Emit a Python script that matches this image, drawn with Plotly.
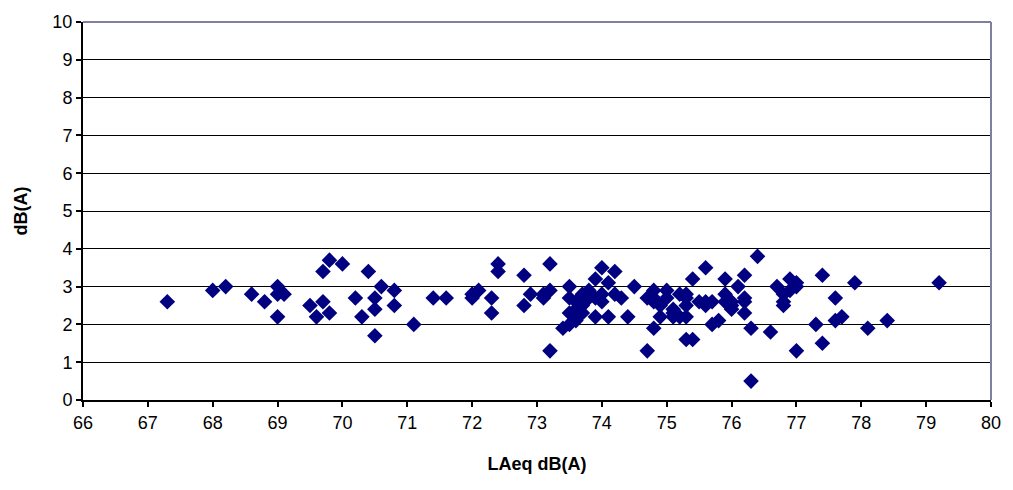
import plotly.graph_objects as go

laeq = [67.3, 68.0, 68.2, 68.6, 68.8, 69.0, 69.0, 69.1, 69.0, 69.5, 69.6, 69.7, 69.7, 69.8, 69.8,
        70.0, 70.2, 70.3, 70.4, 70.5, 70.5, 70.5, 70.6, 70.8, 70.8, 71.1, 71.4, 71.6,
        72.0, 72.0, 72.1, 72.3, 72.3, 72.4, 72.4, 72.8, 72.8, 72.9, 73.1, 73.1, 73.2, 73.2, 73.2,
        73.4, 73.5, 73.5, 73.5, 73.5, 73.6, 73.6, 73.6, 73.7, 73.7, 73.7, 73.8, 73.8, 73.9, 73.9, 73.9,
        74.0, 74.0, 74.0, 74.1, 74.1, 74.2, 74.2, 74.3, 74.4, 74.5, 74.7, 74.7, 74.8, 74.8, 74.8, 74.8,
        74.9, 74.9, 75.0, 75.0, 75.1, 75.1, 75.1, 75.2, 75.2, 75.3, 75.3, 75.3, 75.3, 75.3, 75.4, 75.4,
        75.5, 75.6, 75.6, 75.6, 75.7, 75.7, 75.8, 75.9, 75.9, 75.9, 76.0, 76.0, 76.0, 76.1, 76.2, 76.2,
        76.2, 76.2, 76.3, 76.3, 76.4, 76.6, 76.7, 76.8, 76.8, 76.8, 76.9, 76.9, 77.0, 77.0, 77.0,
        77.3, 77.4, 77.4, 77.6, 77.6, 77.7, 77.9, 78.1, 78.4, 79.2]
dba = [2.6, 2.9, 3.0, 2.8, 2.6, 3.0, 2.8, 2.8, 2.2, 2.5, 2.2, 2.6, 3.4, 3.7, 2.3,
       3.6, 2.7, 2.2, 3.4, 2.7, 2.4, 1.7, 3.0, 2.9, 2.5, 2.0, 2.7, 2.7,
       2.7, 2.8, 2.9, 2.7, 2.3, 3.6, 3.4, 3.3, 2.5, 2.8, 2.7, 2.8, 3.6, 2.9, 1.3,
       1.9, 2.0, 2.3, 3.0, 2.7, 2.1, 2.4, 2.6, 2.5, 2.3, 2.8, 2.7, 2.9, 2.2, 2.7, 3.2,
       2.6, 2.8, 3.5, 2.2, 3.1, 3.4, 2.8, 2.7, 2.2, 3.0, 2.7, 1.3, 2.6, 2.9, 1.9, 2.7,
       2.5, 2.2, 2.9, 2.7, 2.3, 2.2, 2.4, 2.8, 2.2, 2.7, 2.5, 2.2, 2.8, 1.6, 1.6, 3.2,
       2.6, 2.5, 3.5, 2.6, 2.6, 2.0, 2.1, 3.2, 2.8, 2.6, 2.6, 2.4, 2.5, 3.0, 3.3, 2.7,
       2.6, 2.3, 1.9, 0.5, 3.8, 1.8, 3.0, 2.8, 2.6, 2.5, 2.9, 3.2, 3.0, 3.1, 1.3,
       2.0, 3.3, 1.5, 2.7, 2.1, 2.2, 3.1, 1.9, 2.1, 3.1]

x_ticks = list(range(66, 81))
y_ticks = list(range(0, 11))

fig = go.Figure()
fig.add_trace(go.Scatter(
    x=laeq, y=dba, mode="markers",
    marker=dict(symbol="diamond", color="#000080", size=12, line=dict(width=0)),
    showlegend=False, hoverinfo="x+y"))

font = "Liberation Sans, Arial, sans-serif"
fig.update_layout(
    width=1013, height=490,
    margin=dict(l=83, r=15, t=15, b=90),
    paper_bgcolor="white", plot_bgcolor="white",
    font=dict(family=font, size=18, color="black"),
    xaxis=dict(range=[66, 80], tickvals=x_ticks, ticktext=[str(v) for v in x_ticks],
               showgrid=False, zeroline=False, showline=True, linecolor="black", linewidth=2,
               ticks="outside", ticklen=5, tickwidth=1.5, tickcolor="black",
               tickfont=dict(size=18),
               title=dict(text="<b>LAeq dB(A)</b>", font=dict(size=18), standoff=26)),
    yaxis=dict(range=[0, 10], tickvals=y_ticks, ticktext=[str(v) for v in y_ticks],
               showgrid=True, gridcolor="black", gridwidth=1.2, zeroline=False,
               showline=True, linecolor="black", linewidth=2,
               ticks="outside", ticklen=5, tickwidth=1.5, tickcolor="black",
               tickfont=dict(size=18),
               title=dict(text="<b>dB(A)</b>", font=dict(size=18), standoff=20)),
    shapes=[
        dict(type="line", xref="paper", yref="paper", x0=0, x1=1, y0=1, y1=1,
             line=dict(color="#7f7f9f", width=2), layer="above"),
        dict(type="line", xref="paper", yref="paper", x0=1, x1=1, y0=0, y1=1,
             line=dict(color="#7f7f9f", width=2), layer="above"),
    ],
)
fig.write_html("out.html")
